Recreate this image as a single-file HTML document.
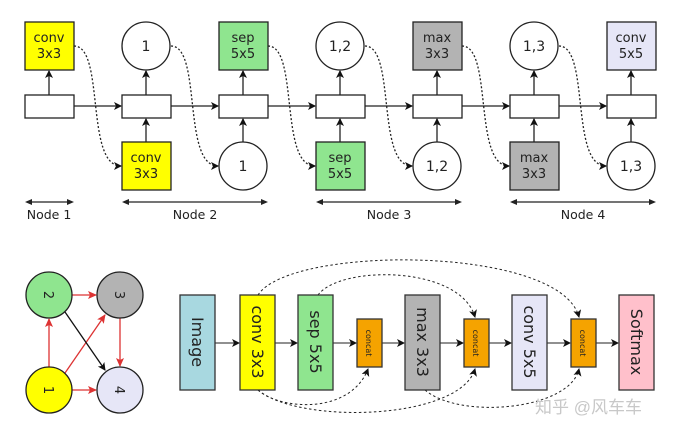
<!DOCTYPE html>
<html><head><style>body{margin:0;background:#fff}svg{display:block}</style></head><body>
<svg width="678" height="435" viewBox="0 0 678 435" xmlns="http://www.w3.org/2000/svg" font-family="DejaVu Sans, Liberation Sans, sans-serif">
<defs>
<marker id="a" markerWidth="8" markerHeight="8" refX="7" refY="4" orient="auto" markerUnits="userSpaceOnUse"><path d="M0,0 L8,4 L0,8 L2,4z" fill="#111"/></marker>
<marker id="r" markerWidth="9" markerHeight="8" refX="8" refY="4" orient="auto" markerUnits="userSpaceOnUse"><path d="M0,0 L9,4 L0,8 L2,4z" fill="#d33"/></marker>
</defs>
<g stroke="#222" stroke-width="1.3" fill="none">
<rect x="25" y="95" width="49" height="23" fill="#fff"/>
<rect x="122" y="95" width="49" height="23" fill="#fff"/>
<rect x="219" y="95" width="49" height="23" fill="#fff"/>
<rect x="316" y="95" width="49" height="23" fill="#fff"/>
<rect x="413" y="95" width="49" height="23" fill="#fff"/>
<rect x="510" y="95" width="49" height="23" fill="#fff"/>
<rect x="607" y="95" width="49" height="23" fill="#fff"/>
<g marker-end="url(#a)">
<line x1="74" y1="106" x2="121" y2="106"/><line x1="171" y1="106" x2="218" y2="106"/><line x1="268" y1="106" x2="315" y2="106"/><line x1="365" y1="106" x2="412" y2="106"/><line x1="462" y1="106" x2="509" y2="106"/><line x1="559" y1="106" x2="606" y2="106"/>
<line x1="49" y1="95" x2="49" y2="71"/><line x1="146" y1="95" x2="146" y2="71"/><line x1="243" y1="95" x2="243" y2="71"/><line x1="340" y1="95" x2="340" y2="71"/><line x1="437" y1="95" x2="437" y2="71"/><line x1="534" y1="95" x2="534" y2="71"/><line x1="631" y1="95" x2="631" y2="71"/>
<line x1="146" y1="142" x2="146" y2="119"/><line x1="243" y1="142" x2="243" y2="119"/><line x1="340" y1="142" x2="340" y2="119"/><line x1="437" y1="142" x2="437" y2="119"/><line x1="534" y1="142" x2="534" y2="119"/><line x1="631" y1="142" x2="631" y2="119"/>
</g>
<rect x="25" y="22" width="49" height="48" fill="#ffff00"/>
<circle cx="146" cy="46" r="24" fill="#fff"/>
<rect x="219" y="22" width="49" height="48" fill="#8fe58f"/>
<circle cx="340" cy="46" r="24" fill="#fff"/>
<rect x="413" y="22" width="49" height="48" fill="#b3b3b3"/>
<circle cx="534" cy="46" r="24" fill="#fff"/>
<rect x="607" y="22" width="49" height="48" fill="#e6e6f7"/>
<rect x="122" y="142" width="49" height="48" fill="#ffff00"/>
<circle cx="243" cy="166" r="24" fill="#fff"/>
<rect x="316" y="142" width="49" height="48" fill="#8fe58f"/>
<circle cx="437" cy="166" r="24" fill="#fff"/>
<rect x="510" y="142" width="49" height="48" fill="#b3b3b3"/>
<circle cx="631" cy="166" r="24" fill="#fff"/>
<g stroke-dasharray="2,2" marker-end="url(#a)">
<path d="M74,46 C105,46 85,166 121,166"/><path d="M171,46 C202,46 182,166 218,166"/><path d="M268,46 C299,46 279,166 315,166"/><path d="M365,46 C396,46 376,166 412,166"/><path d="M462,46 C493,46 473,166 509,166"/><path d="M559,46 C590,46 570,166 606,166"/>
</g>
</g>
<g stroke="#222" stroke-width="1.2">
<line x1="27" y1="202" x2="72" y2="202"/><line x1="124" y1="202" x2="266" y2="202"/><line x1="318" y1="202" x2="460" y2="202"/><line x1="512" y1="202" x2="654" y2="202"/>
</g>
<g fill="#222">
<path d="M25,202 l7,-3 v6z M74,202 l-7,-3 v6z M122,202 l7,-3 v6z M268,202 l-7,-3 v6z M316,202 l7,-3 v6z M462,202 l-7,-3 v6z M510,202 l7,-3 v6z M656,202 l-7,-3 v6z"/>
</g>
<g font-size="13" fill="#222" text-anchor="middle">
<text x="49" y="42">conv</text><text x="49" y="58">3x3</text>
<text x="146" y="51" font-size="14">1</text>
<text x="243" y="42">sep</text><text x="243" y="58">5x5</text>
<text x="340" y="51" font-size="14">1,2</text>
<text x="437" y="42">max</text><text x="437" y="58">3x3</text>
<text x="534" y="51" font-size="14">1,3</text>
<text x="631" y="42">conv</text><text x="631" y="58">5x5</text>
<text x="146" y="162">conv</text><text x="146" y="178">3x3</text>
<text x="243" y="171" font-size="14">1</text>
<text x="340" y="162">sep</text><text x="340" y="178">5x5</text>
<text x="437" y="171" font-size="14">1,2</text>
<text x="534" y="162">max</text><text x="534" y="178">3x3</text>
<text x="631" y="171" font-size="14">1,3</text>
<text x="49" y="219" font-size="12.5">Node 1</text><text x="195" y="219" font-size="12.5">Node 2</text><text x="389" y="219" font-size="12.5">Node 3</text><text x="583" y="219" font-size="12.5">Node 4</text>
</g>
<g stroke-width="1.3">
<line x1="49" y1="367" x2="49" y2="319" stroke="#d33" marker-end="url(#r)"/>
<line x1="72" y1="295" x2="96" y2="295" stroke="#d33" marker-end="url(#r)"/>
<line x1="72" y1="390" x2="96" y2="390" stroke="#d33" marker-end="url(#r)"/>
<line x1="65" y1="373" x2="105" y2="315" stroke="#d33" marker-end="url(#r)"/>
<line x1="120" y1="318" x2="120" y2="366" stroke="#d33" marker-end="url(#r)"/>
<line x1="65" y1="312" x2="105" y2="370" stroke="#111" marker-end="url(#a)"/>
</g>
<g stroke="#222" stroke-width="1.3">
<circle cx="49" cy="295" r="23" fill="#8fe58f"/><circle cx="120" cy="295" r="23" fill="#b3b3b3"/>
<circle cx="49" cy="390" r="23" fill="#ffff00"/><circle cx="120" cy="390" r="23" fill="#e6e6f7"/>
</g>
<g font-size="13" fill="#222" text-anchor="middle">
<text transform="translate(49,295) rotate(90)" y="5">2</text><text transform="translate(120,295) rotate(90)" y="5">3</text>
<text transform="translate(49,390) rotate(90)" y="5">1</text><text transform="translate(120,390) rotate(90)" y="5">4</text>
</g>
<g stroke="#222" stroke-width="1" marker-end="url(#a)">
<line x1="215" y1="343" x2="239" y2="343"/><line x1="275" y1="343" x2="297" y2="343"/><line x1="333" y1="343" x2="356" y2="343"/><line x1="382" y1="343" x2="404" y2="343"/><line x1="440" y1="343" x2="463" y2="343"/><line x1="489" y1="343" x2="511" y2="343"/><line x1="547" y1="343" x2="570" y2="343"/><line x1="596" y1="343" x2="618" y2="343"/>
</g>
<g stroke="#222" stroke-width="1" fill="none" stroke-dasharray="2.5,2.5" marker-end="url(#a)">
<path d="M258,295 C290,245 560,245 579,317"/>
<path d="M318,295 C340,265 460,265 475,317"/>
<path d="M258,390 C280,410 350,415 368,369"/>
<path d="M258,390 C300,425 460,420 475,369"/>
<path d="M425,390 C460,420 570,410 579,369"/>
</g>
<g stroke="#333" stroke-width="1.3">
<rect x="180" y="295" width="35" height="95" fill="#a8d8e0"/>
<rect x="240" y="295" width="35" height="95" fill="#ffff00"/>
<rect x="298" y="295" width="35" height="95" fill="#8fe58f"/>
<rect x="357" y="319" width="25" height="48" fill="#f5a300"/>
<rect x="405" y="295" width="35" height="95" fill="#b3b3b3"/>
<rect x="464" y="319" width="25" height="48" fill="#f5a300"/>
<rect x="512" y="295" width="35" height="95" fill="#e6e6f7"/>
<rect x="571" y="319" width="25" height="48" fill="#f5a300"/>
<rect x="619" y="295" width="35" height="95" fill="#ffc0cb"/>
</g>
<g font-size="16" fill="#222" text-anchor="middle">
<text transform="translate(197,342) rotate(90)" y="5">Image</text>
<text transform="translate(257,342) rotate(90)" y="5">conv 3x3</text>
<text transform="translate(315,342) rotate(90)" y="5">sep 5x5</text>
<text transform="translate(422,342) rotate(90)" y="5">max 3x3</text>
<text transform="translate(529,342) rotate(90)" y="5">conv 5x5</text>
<text transform="translate(636,342) rotate(90)" y="5">Softmax</text>
<text transform="translate(369,343) rotate(90)" y="3" font-size="8">concat</text>
<text transform="translate(476,343) rotate(90)" y="3" font-size="8">concat</text>
<text transform="translate(583,343) rotate(90)" y="3" font-size="8">concat</text>
</g>
<text x="535" y="413" font-size="17" fill="#c8c8c8" font-family="Liberation Sans, Noto Sans CJK SC, sans-serif">知乎 @风车车</text>
</svg>
</body></html>
